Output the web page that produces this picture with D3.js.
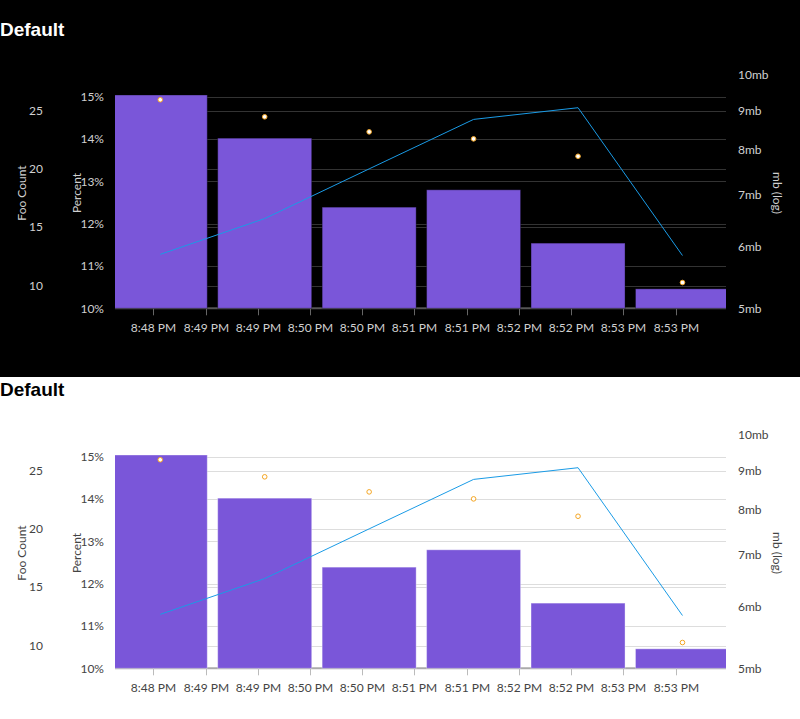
<!DOCTYPE html>
<html>
<head>
<meta charset="utf-8">
<style>
  body { margin: 0; background: #fff; }
  svg { display: block; }
  .title { font-family: "Liberation Sans", Arial, sans-serif; font-weight: bold; font-size: 19px; }
  .tick-text, .axis-title { font-family: Lato, "Open Sans", sans-serif; font-size: 12px; }
</style>
</head>
<body>
<svg width="800" height="719"></svg>
<script src="https://cdn.jsdelivr.net/npm/d3@7/dist/d3.min.js"></script>
<script>

// data, one entry per minute
var times = ["20:48:34", "20:49:34", "20:50:34", "20:51:34", "20:52:34", "20:53:34"];
var percentValues = [15.04, 14.02, 12.39, 12.80, 11.54, 10.46];
var mbValues = [5.87, 6.53, 7.57, 8.77, 9.08, 5.85];
var fooCounts = [25.92, 24.46, 23.17, 22.57, 21.08, 10.26];

// axes
var timeDomain = ["20:48:08", "20:53:59"];
var percentDomain = [10, 15.04];
var fooDomain = [8.05, 26.33];
var mbDomain = [5, 9.43];
var percentTicks = [10, 11, 12, 13, 14, 15];
var fooTicks = [10, 15, 20, 25];
var mbTicks = [5, 6, 7, 8, 9, 10];

var themes = [
  { name: "dark", bg: "#000", title: "#fff", text: "#d0d0d0", grid: "#333", axis: "#555", tick: "#666", barStroke: "#000" },
  { name: "light", bg: "#fff", title: "#000", text: "#444", grid: "#ddd", axis: "#aaa", tick: "#bbb", barStroke: "#fff" }
];

var parseTime = d3.timeParse("%H:%M:%S");
var fmtTime = d3.timeFormat("%-I:%M %p");

var rows = times.map(function(t, i) {
  return { time: parseTime(t), percent: percentValues[i], mb: mbValues[i], foo: fooCounts[i] };
});

var svg = d3.select("svg");
var plotLeft = 115, plotRight = 726, plotTop = 95, plotBottom = 308.3;

var x = d3.scaleTime().domain(timeDomain.map(parseTime)).range([plotLeft, plotRight]);
var yPct = d3.scaleLinear().domain(percentDomain).range([plotBottom, plotTop]);
var yFoo = d3.scaleLinear().domain(fooDomain).range([plotBottom, plotTop]);
var yMb = d3.scaleLog().domain(mbDomain).range([plotBottom, plotTop]);
var step = x(rows[1].time) - x(rows[0].time);
var barW = step * 0.9;

svg.append("rect").attr("width", 800).attr("height", 377).attr("fill", "#000");

themes.forEach(function(th, k) {
  var g = svg.append("g").attr("transform", "translate(0," + (k * 360) + ")");

  g.append("text").attr("class", "title")
      .attr("x", 0).attr("y", 36)
      .attr("fill", th.title)
      .text("Default");

  var clipId = "clip-" + th.name;
  g.append("clipPath").attr("id", clipId)
    .append("rect").attr("x", plotLeft).attr("y", 0).attr("width", plotRight - plotLeft).attr("height", plotBottom + 1);

  // grid lines from both left axes
  var grid = g.append("g");
  grid.selectAll("line.p").data(percentTicks).enter().append("line")
      .attr("x1", plotLeft).attr("x2", plotRight)
      .attr("y1", function(d) { return Math.round(yPct(d)) + 0.5; })
      .attr("y2", function(d) { return Math.round(yPct(d)) + 0.5; })
      .attr("stroke", th.grid);
  grid.selectAll("line.f").data(fooTicks).enter().append("line")
      .attr("x1", plotLeft).attr("x2", plotRight)
      .attr("y1", function(d) { return Math.round(yFoo(d)) + 0.5; })
      .attr("y2", function(d) { return Math.round(yFoo(d)) + 0.5; })
      .attr("stroke", th.grid);

  // x axis
  var xTicks = x.ticks(d3.timeSecond.every(30));
  g.append("line")
      .attr("x1", plotLeft).attr("x2", plotRight)
      .attr("y1", plotBottom).attr("y2", plotBottom)
      .attr("stroke", th.axis).attr("stroke-width", 2);
  var xt = g.append("g").selectAll("g").data(xTicks).enter().append("g")
      .attr("transform", function(d) { return "translate(" + (Math.round(x(d)) + 0.5) + ",0)"; });
  xt.append("line").attr("y1", plotBottom).attr("y2", plotBottom + 7).attr("stroke", th.tick);
  xt.append("text").attr("class", "tick-text")
      .attr("y", 328).attr("dy", "0.35em")
      .attr("text-anchor", "middle")
      .attr("fill", th.text)
      .text(fmtTime);

  // bars
  g.append("g").attr("clip-path", "url(#" + clipId + ")")
    .selectAll("rect").data(rows).enter().append("rect")
      .attr("x", function(d) { return x(d.time) - barW / 2; })
      .attr("width", barW)
      .attr("y", function(d) { return yPct(d.percent); })
      .attr("height", function(d) { return plotBottom - yPct(d.percent); })
      .attr("fill", "#7a56d9")
      .attr("stroke", th.barStroke)
      .attr("stroke-opacity", 0.35);

  // mb line
  g.append("path").datum(rows)
      .attr("fill", "none")
      .attr("stroke", "#1a9be6")
      .attr("stroke-width", 1)
      .attr("d", d3.line()
        .x(function(d) { return x(d.time); })
        .y(function(d) { return yMb(d.mb); }));

  // foo count dots
  g.append("g").selectAll("circle").data(rows).enter().append("circle")
      .attr("cx", function(d) { return x(d.time); })
      .attr("cy", function(d) { return yFoo(d.foo); })
      .attr("r", 2.3)
      .attr("fill", "#fff")
      .attr("stroke", "#f5a623")
      .attr("stroke-width", 1);

  // axis tick labels
  g.append("g").selectAll("text").data(percentTicks).enter().append("text")
      .attr("class", "tick-text")
      .attr("x", 104).attr("y", function(d) { return yPct(d); }).attr("dy", "0.35em")
      .attr("text-anchor", "end").attr("fill", th.text)
      .text(function(d) { return d + "%"; });
  g.append("g").selectAll("text").data(fooTicks).enter().append("text")
      .attr("class", "tick-text")
      .attr("x", 43).attr("y", function(d) { return yFoo(d); }).attr("dy", "0.35em")
      .attr("text-anchor", "end").attr("fill", th.text)
      .text(function(d) { return d; });
  g.append("g").selectAll("text").data(mbTicks).enter().append("text")
      .attr("class", "tick-text")
      .attr("x", 738).attr("y", function(d) { return yMb(d); }).attr("dy", "0.35em")
      .attr("text-anchor", "start").attr("fill", th.text)
      .text(function(d) { return d + "mb"; });

  // axis titles
  g.append("text").attr("class", "axis-title")
      .attr("transform", "translate(26,193)rotate(-90)")
      .attr("text-anchor", "middle").attr("fill", th.text)
      .text("Foo Count");
  g.append("text").attr("class", "axis-title")
      .attr("transform", "translate(81,193)rotate(-90)")
      .attr("text-anchor", "middle").attr("fill", th.text)
      .text("Percent");
  g.append("text").attr("class", "axis-title")
      .attr("transform", "translate(773,193)rotate(90)")
      .attr("text-anchor", "middle").attr("fill", th.text)
      .text("mb (log)");
});

</script>
</body>
</html>
